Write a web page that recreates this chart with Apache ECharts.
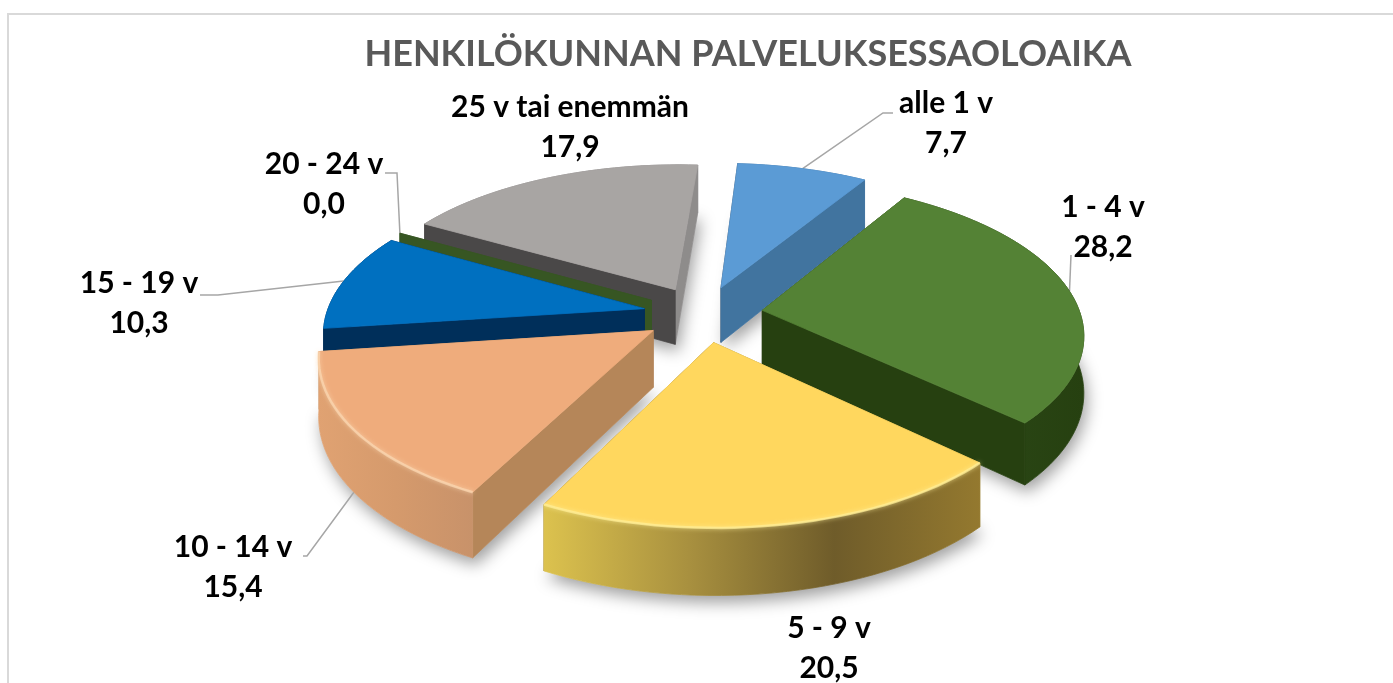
<!DOCTYPE html>
<html>
<head>
<meta charset="utf-8">
<title>Henkilökunnan palveluksessaoloaika</title>
<style>
  html, body { margin: 0; padding: 0; background: #fff; }
  #chart { width: 1393px; height: 683px; overflow: hidden; }
</style>
<script src="https://cdn.jsdelivr.net/npm/echarts@6/dist/echarts.min.js"></script>
</head>
<body>
<div id="chart"></div>
<script>
var chartTitle = 'HENKILÖKUNNAN PALVELUKSESSAOLOAIKA'
var categories = ['alle 1 v', '1 - 4 v', '5 - 9 v', '10 - 14 v', '15 - 19 v', '20 - 24 v', '25 v tai enemmän']
var values = [7.7, 28.2, 20.5, 15.4, 10.3, 0.0, 17.9]

// back slices first, so the front ones cover them
var paintOrder = [6, 5, 0, 4, 1, 3, 2]

// colours per slice: top face, side faces, outer wall stops, rim highlight
var topColors = ['#5B9BD5', '#548235', '#FFD75E', '#EFAC7C', '#0070C0', '#375623', '#A8A5A3']
var startWalls = ['#3F4F5F', '#27400F', '#A08A3A', '#B58659', '#002F5A', '#375623', '#4A4848']
var endWalls = ['#41749F', '#264010', '#8A7030', '#B58659', '#002F5A', '#375623', '#8E8C8B']
var rimWalls = [
  ['#41749F', '#41749F'],
  ['#2A4615', '#2A4615', '#264010'],
  ['#DCC24E', '#A8903F', '#6F5C2A', '#94792F'],
  ['#E0A272', '#D59A6C', '#C8926A'],
  ['#002F5A', '#002F5A'],
  ['#375623', '#375623'],
  ['#8E8C8B', '#8E8C8B']
]
var rimLights = [null, null, '#FFF09A', '#FBD9B4', null, null, null]

// label centres and leader knees
var labelPos = [[946, 83], [1103, 187], [829, 608], [233, 527], [139, 263], [324, 144], [570, 87]]
var leaderKnees = [
  [[893, 113], [883, 113]],
  [[1071, 255]],
  null,
  [[303, 556], [307, 556]],
  [[200, 295], [218, 295]],
  [[385, 173], [397, 173]],
  null
]
var leaderOnBase = [false, false, false, true, false, false, false]

var firstAngle = 4
var centerX = 703
var centerY = 314
var radius = 318
var radiusScale = [1, 1, 1, 1.02, 1, 1, 1]
var camera = 2200
var tilt = 0.47
var explode = 60
var depth = 56

function rad(deg) {
  return deg * Math.PI / 180
}

function sliceAngles(i) {
  var total = values.reduce(function (a, b) { return a + b }, 0)
  var before = values.slice(0, i).reduce(function (a, b) { return a + b }, 0)
  var start = firstAngle + before / total * 360
  return [start, start + values[i] / total * 360]
}

// plane point -> screen, the pie lies flat and is seen from the front
function project(i, angle, r, z) {
  var a = sliceAngles(i)
  var mid = rad((a[0] + a[1]) / 2)
  var X = explode * Math.sin(mid) + r * Math.sin(rad(angle))
  var Y = -explode * Math.cos(mid) - r * Math.cos(rad(angle))
  var f = camera / (camera - Y)
  return [centerX + X * f, centerY + (Y * tilt + z) * f]
}

function arcPoints(i, z) {
  var a = sliceAngles(i)
  var n = Math.max(1, Math.ceil((a[1] - a[0]) / 2))
  var pts = []
  for (var k = 0; k <= n; k++) {
    pts.push(project(i, a[0] + (a[1] - a[0]) * k / n, radius * radiusScale[i], z))
  }
  return pts
}

function poly(points, fill, z2, extra) {
  var style = { fill: fill, stroke: fill, lineWidth: 0.8 }
  if (extra) {
    Object.keys(extra).forEach(function (key) { style[key] = extra[key] })
  }
  return { type: 'polygon', shape: { points: points }, style: style, z2: z2 }
}

function radialWall(i, angle) {
  var r = radius * radiusScale[i]
  return [project(i, angle, 0, 0), project(i, angle, r, 0), project(i, angle, r, depth), project(i, angle, 0, depth)]
}

function renderSlice(params, api) {
  var i = api.value(0)
  var rank = paintOrder.indexOf(i)
  var base = 100 + rank * 10
  var a = sliceAngles(i)
  var mid = (a[0] + a[1]) / 2
  var top = arcPoints(i, 0)
  var bottom = arcPoints(i, depth)
  var apex = project(i, 0, 0, 0)
  var apexLow = project(i, 0, 0, depth)
  var children = []

  if (values[i] > 0) {
    // soft shadow under the slice
    children.push(poly(bottom.concat([apexLow]), '#fff', 1, {
      stroke: null,
      shadowBlur: 16,
      shadowColor: 'rgba(0,0,0,0.38)',
      shadowOffsetX: 3,
      shadowOffsetY: 7
    }))
  }

  // the wall nearer to the viewer is painted later
  var walls = [
    { angle: a[0], color: startWalls[i] },
    { angle: a[1], color: endWalls[i] }
  ].sort(function (p, q) {
    return Math.cos(rad(q.angle)) - Math.cos(rad(p.angle))
  })
  // a rim on the far side goes under the side walls, a near one over them
  var rimZ = Math.cos(rad(mid)) > 0 ? base : base + 3
  children.push(poly(radialWall(i, walls[0].angle), walls[0].color, base + 1))
  children.push(poly(radialWall(i, walls[1].angle), walls[1].color, base + 2))

  if (values[i] > 0) {
    var xs = top.concat(bottom).map(function (p) { return p[0] })
    var stops = rimWalls[i].map(function (c, k) {
      return { offset: k / (rimWalls[i].length - 1), color: c }
    })
    var wallFill = new echarts.graphic.LinearGradient(
      Math.min.apply(null, xs), 0, Math.max.apply(null, xs), 0, stops, true)
    children.push(poly(top.concat(bottom.slice().reverse()), wallFill, rimZ))
    children.push(poly(top.concat([apex]), topColors[i], base + 4))
    if (rimLights[i]) {
      children.push({
        type: 'polyline',
        shape: { points: top },
        style: { fill: null, stroke: rimLights[i], lineWidth: 2.5, opacity: 0.7, shadowBlur: 4, shadowColor: rimLights[i] },
        z2: base + 5
      })
    }
  }

  // leader line ends on the rim at the middle of the slice
  if (leaderKnees[i]) {
    var end = project(i, mid, radius * radiusScale[i], leaderOnBase[i] ? depth : 0)
    var line = leaderKnees[i].slice()
    line.push(end)
    children.push({
      type: 'polyline',
      shape: { points: line },
      style: { fill: null, stroke: '#A6A6A6', lineWidth: 1.5 },
      z2: 90
    })
  }

  children.push({
    type: 'text',
    x: labelPos[i][0],
    y: labelPos[i][1],
    style: {
      text: categories[i] + '\n' + values[i].toFixed(1).replace('.', ','),
      font: 'bold 30px Lato',
      lineHeight: 40,
      fill: '#000',
      align: 'center',
      verticalAlign: 'top'
    },
    z2: 300
  })

  return { type: 'group', children: children }
}

var chart = echarts.init(document.getElementById('chart'))
chart.setOption({
  animation: false,
  title: {
    text: chartTitle,
    left: 743,
    top: 31,
    textAlign: 'center',
    textStyle: { color: '#595959', fontFamily: 'Lato', fontWeight: 'bold', fontSize: 36 }
  },
  graphic: [{
    type: 'rect',
    shape: { x: 8, y: 14, width: 1500, height: 800 },
    style: { fill: null, stroke: '#D9D9D9', lineWidth: 2 },
    silent: true
  }],
  series: [{
    type: 'custom',
    coordinateSystem: 'none',
    renderItem: renderSlice,
    data: paintOrder.map(function (i) { return [i] })
  }]
})
</script>
</body>
</html>
